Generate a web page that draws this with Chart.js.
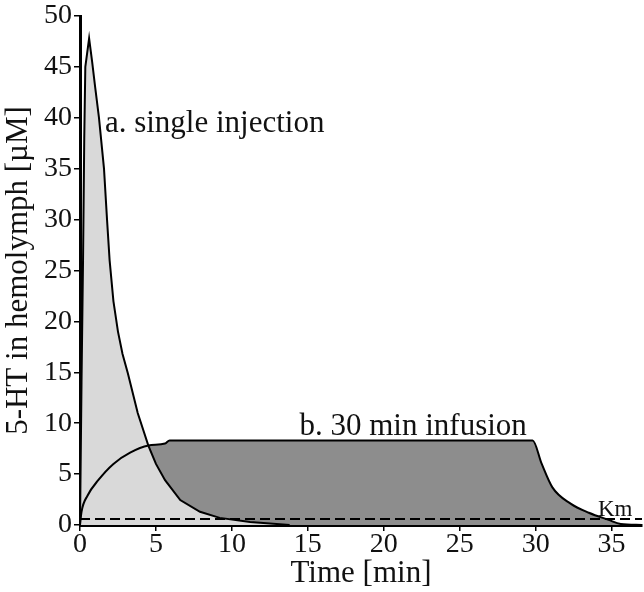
<!DOCTYPE html>
<html>
<head>
<meta charset="utf-8">
<script src="https://cdn.jsdelivr.net/npm/chart.js@4"></script>
<style>
  html, body { margin: 0; padding: 0; background: #fff; }
  #wrap { width: 644px; height: 592px; }
</style>
</head>
<body>
<div id="wrap"><canvas id="hemolymph-chart"></canvas></div>
<script>
// a. single injection
var timeA = [0, 0.1, 0.2, 0.28, 0.35, 0.6, 0.8, 1.0, 1.25, 1.58, 1.78, 1.95, 2.2, 2.5, 2.8, 3.15, 3.8, 4.5, 5.0, 5.6, 6.6, 7.9, 9.2, 11.2, 13.8];
var valueA = [0, 14, 26, 38, 45, 47.8, 45.5, 43, 40, 35, 30, 26, 22, 19, 16.8, 14.9, 11, 7.8, 6.0, 4.4, 2.45, 1.3, 0.7, 0.3, 0];

// b. 30 min infusion
var timeB = [0, 0.1, 0.5, 1.2, 2.2, 3.3, 4.5, 5.6, 5.9, 29.8, 30.4, 31.1, 32.3, 33.5, 34.8, 35.6, 37];
var valueB = [0, 1.3, 2.9, 4.4, 6.0, 7.1, 7.8, 8.0, 8.3, 8.3, 6.0, 3.7, 2.1, 1.2, 0.5, 0.1, 0];

var kmValue = 0.6;
var xTicks = [0, 5, 10, 15, 20, 25, 30, 35];
var yTicks = [0, 5, 10, 15, 20, 25, 30, 35, 40, 45, 50];

function toPoints(xs, ys) {
    return xs.map(function (x, i) { return { x: x, y: ys[i] }; });
}

var serif = "'Liberation Serif', 'DejaVu Serif', serif";

// text labels placed in data units
var notes = [
    { text: 'a. single injection', x: 1.64, y: 38.6, size: 31 },
    { text: 'b. 30 min infusion', x: 14.45, y: 8.8, size: 31 },
    { text: 'Km', x: 34.1, y: 0.85, size: 23 }
];

var notePlugin = {
    id: 'notes',
    afterDraw: function (chart) {
        var c = chart.ctx, xs = chart.scales.x, ys = chart.scales.y;
        c.save();
        c.fillStyle = '#111';
        c.textBaseline = 'alphabetic';
        c.textAlign = 'left';
        notes.forEach(function (n) {
            c.font = n.size + 'px ' + serif;
            c.fillText(n.text, xs.getPixelForValue(n.x), ys.getPixelForValue(n.y));
        });
        c.restore();
    }
};

new Chart(document.getElementById('hemolymph-chart'), {
    type: 'line',
    data: {
        datasets: [
            {
                label: 'a. single injection',
                data: toPoints(timeA, valueA),
                borderColor: '#000',
                borderWidth: 2,
                backgroundColor: '#d9d9d9',
                fill: 'origin',
                pointRadius: 0,
                tension: 0
            }, {
                label: 'b. 30 min infusion',
                data: toPoints(timeB, valueB),
                borderColor: '#000',
                borderWidth: 2,
                backgroundColor: '#8d8d8d',
                fill: 'origin',
                pointRadius: 0,
                cubicInterpolationMode: 'monotone'
            }, {
                label: 'Km',
                data: toPoints([0, 37], [kmValue, kmValue]),
                borderColor: '#000',
                borderWidth: 2,
                borderDash: [10, 5],
                fill: false,
                pointRadius: 0
            }
        ]
    },
    options: {
        responsive: true,
        maintainAspectRatio: false,
        animation: false,
        layout: { padding: { top: 15, right: 2, left: 0, bottom: 0 } },
        scales: {
            x: {
                type: 'linear',
                min: 0,
                max: 37,
                afterBuildTicks: function (s) { s.ticks = xTicks.map(function (v) { return { value: v }; }); },
                afterFit: function (s) { s.height = 67; },
                grid: { drawOnChartArea: false, drawTicks: true, tickLength: 6, color: '#000', lineWidth: 1.5 },
                border: { display: true, color: '#000', width: 3 },
                ticks: { color: '#111', padding: 0, maxRotation: 0, font: { family: serif, size: 28, lineHeight: 1 } },
                title: {
                    display: true,
                    text: 'Time [min]',
                    color: '#111',
                    padding: { top: 0, bottom: 0 },
                    font: { family: serif, size: 31 }
                }
            },
            y: {
                min: 0,
                max: 50,
                afterBuildTicks: function (s) { s.ticks = yTicks.map(function (v) { return { value: v }; }); },
                afterFit: function (s) { s.width = 80; },
                grid: { drawOnChartArea: false, drawTicks: true, tickLength: 6, color: '#000', lineWidth: 1.5 },
                border: { display: true, color: '#000', width: 3 },
                ticks: { color: '#111', padding: 2, font: { family: serif, size: 28, lineHeight: 1 } },
                title: {
                    display: true,
                    text: '5-HT in hemolymph [µM]',
                    color: '#111',
                    padding: { top: 0, bottom: 0 },
                    font: { family: serif, size: 31 }
                }
            }
        },
        plugins: {
            legend: { display: false },
            tooltip: { enabled: false },
            filler: { drawTime: 'beforeDatasetsDraw' }
        }
    },
    plugins: [notePlugin]
});
</script>
</body>
</html>
